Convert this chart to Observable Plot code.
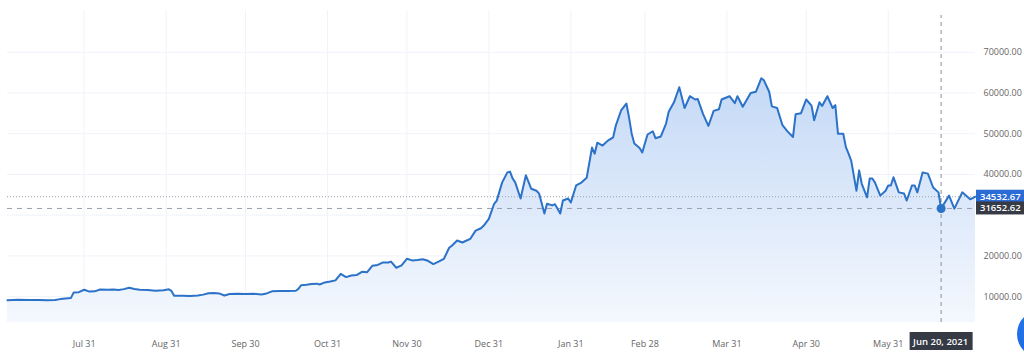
<!DOCTYPE html>
<html>
<head>
<meta charset="utf-8">
<script src="https://cdn.jsdelivr.net/npm/d3@7"></script>
<script src="https://cdn.jsdelivr.net/npm/@observablehq/plot@0.6"></script>
<style>
  html, body { margin: 0; padding: 0; background: #fff; overflow: hidden; }
  #wrap { position: relative; width: 1024px; height: 363px; }
  #fab { position: absolute; left: 1017px; top: 310px; width: 48px; height: 48px; border-radius: 50%;
         background: radial-gradient(circle at 40% 40%, #2b7bf0, #1160d8); }
</style>
</head>
<body>
<div id="wrap"><div id="fab"></div></div>
<script>
// ---- data ----
const dates = [
  "2020-07-02","2020-07-06","2020-07-10","2020-07-14","2020-07-17","2020-07-20","2020-07-22","2020-07-24","2020-07-26","2020-07-27","2020-07-29","2020-07-31",
  "2020-08-02","2020-08-04","2020-08-06","2020-08-09","2020-08-11","2020-08-13","2020-08-15","2020-08-17","2020-08-19","2020-08-21","2020-08-24","2020-08-27","2020-08-30",
  "2020-09-01","2020-09-02","2020-09-03","2020-09-06","2020-09-09","2020-09-12","2020-09-14","2020-09-16","2020-09-18","2020-09-20","2020-09-22","2020-09-24","2020-09-27","2020-09-30",
  "2020-10-03","2020-10-06","2020-10-08","2020-10-10","2020-10-13","2020-10-16","2020-10-19","2020-10-20","2020-10-21","2020-10-23","2020-10-25","2020-10-27","2020-10-28","2020-10-30",
  "2020-11-01","2020-11-03","2020-11-05","2020-11-07","2020-11-09","2020-11-11","2020-11-13","2020-11-15","2020-11-17","2020-11-19","2020-11-21","2020-11-23","2020-11-24","2020-11-26","2020-11-28","2020-11-30",
  "2020-12-02","2020-12-04","2020-12-06","2020-12-08","2020-12-10","2020-12-12","2020-12-14","2020-12-16","2020-12-17","2020-12-19","2020-12-21","2020-12-22","2020-12-24","2020-12-26","2020-12-28","2020-12-29","2020-12-31",
  "2021-01-02","2021-01-03","2021-01-05","2021-01-07","2021-01-08","2021-01-09","2021-01-10","2021-01-12","2021-01-14","2021-01-16","2021-01-18","2021-01-19","2021-01-21","2021-01-22","2021-01-24","2021-01-25","2021-01-27","2021-01-28","2021-01-30","2021-01-31",
  "2021-02-02","2021-02-04","2021-02-06","2021-02-08","2021-02-09","2021-02-10","2021-02-12","2021-02-14","2021-02-16","2021-02-17","2021-02-19","2021-02-21","2021-02-22","2021-02-23","2021-02-24","2021-02-26","2021-02-27",
  "2021-03-01","2021-03-03","2021-03-04","2021-03-06","2021-03-08","2021-03-09","2021-03-11","2021-03-13","2021-03-15","2021-03-17","2021-03-19","2021-03-20","2021-03-22","2021-03-24","2021-03-26","2021-03-28","2021-03-29",
  "2021-04-01","2021-04-03","2021-04-04","2021-04-06","2021-04-09","2021-04-11","2021-04-13","2021-04-14","2021-04-16","2021-04-17","2021-04-19","2021-04-21","2021-04-23","2021-04-25","2021-04-26","2021-04-28","2021-04-30",
  "2021-05-02","2021-05-03","2021-05-05","2021-05-06","2021-05-08","2021-05-10","2021-05-11","2021-05-12","2021-05-14","2021-05-15","2021-05-16","2021-05-17","2021-05-19","2021-05-20","2021-05-21","2021-05-23","2021-05-24","2021-05-25","2021-05-26","2021-05-28","2021-05-30","2021-05-31",
  "2021-06-01","2021-06-02","2021-06-04","2021-06-06","2021-06-07","2021-06-09","2021-06-10","2021-06-11","2021-06-13","2021-06-15","2021-06-17","2021-06-19","2021-06-20","2021-06-23","2021-06-25","2021-06-28","2021-07-01","2021-07-03"
];
const prices = [
  9100,9250,9200,9180,9150,9200,9400,9550,9700,11000,11100,11700,
  11250,11300,11750,11700,11750,11650,11850,12200,11900,11700,11650,11450,11600,
  11800,11400,10250,10200,10150,10300,10500,10850,10900,10800,10300,10650,10700,10650,
  10700,10550,10800,11300,11400,11400,11450,11900,12800,12900,13100,13200,13000,13500,
  13700,14000,15600,14800,15200,15300,16100,16000,17600,17800,18400,18400,18600,17100,17700,19300,
  18900,19000,19200,18800,18000,18600,19300,22000,22500,23800,23300,23600,24200,26200,26800,27400,29100,
  32800,33600,38000,40500,40700,39000,38000,34100,39800,36500,36000,35300,30400,32800,32400,32700,30400,33600,34100,33100,
  37300,38000,39200,46600,45100,47800,47100,48300,49100,52000,55700,57400,54000,50000,47600,46500,45400,
  49800,50600,48900,49300,52500,55400,57700,61400,56300,59200,58400,58500,54800,51900,55600,56000,58400,
  59200,57500,59200,56600,60000,60300,63600,63100,60300,56700,56300,52100,50500,49200,54800,55000,58400,
  56900,53300,57700,56800,59200,56300,57000,50000,50000,46700,45100,43400,36000,41000,37700,34400,39000,39000,38000,34800,36000,37300,
  37300,39300,35600,35300,33600,37300,37300,35600,40500,40200,36800,35600,31652.62,34800,31600,35600,33900,34532.67
];
const tickDates = ["2020-07-31","2020-08-31","2020-09-30","2020-10-31","2020-11-30","2020-12-31","2021-01-31","2021-02-28","2021-03-31","2021-04-30","2021-05-31"];
const tickLabels = ["Jul 31","Aug 31","Sep 30","Oct 31","Nov 30","Dec 31","Jan 31","Feb 28","Mar 31","Apr 30","May 31"];
const yTicks = [10000, 20000, 40000, 50000, 60000, 70000];
const yGrid = [10000, 20000, 30000, 40000, 50000, 60000, 70000];
const lastPrice = 34532.67;
const crossDate = "2021-06-20";
const crossPrice = 31652.62;
const crossLabel = "Jun 20, 2021";
const xDomain = ["2020-07-02", "2021-07-03"];
const yDomain = [3660, 80240];

// ---- build ----
const data = dates.map((d, i) => ({date: new Date(d), price: prices[i]}));
const tickMap = new Map(tickDates.map((d, i) => [+new Date(d), tickLabels[i]]));
const NS = "http://www.w3.org/2000/svg";
function el(tag, attrs, text) {
  const e = document.createElementNS(NS, tag);
  for (const k in attrs) e.setAttribute(k, attrs[k]);
  if (text != null) e.textContent = text;
  return e;
}

const gradientDefs = () => {
  const defs = el("defs", {});
  const lg = el("linearGradient", {id: "areaGrad", x1: 0, y1: 0, x2: 0, y2: 1});
  lg.appendChild(el("stop", {offset: "0%", "stop-color": "#c4d9f6"}));
  lg.appendChild(el("stop", {offset: "100%", "stop-color": "#f4f8fe"}));
  defs.appendChild(lg);
  return defs;
};

const labels = (index, scales, values, dim) => {
  const g = el("g", {"font-family": "'Open Sans', sans-serif", "font-size": 9.5});
  const x0 = dim.width - dim.marginRight;
  [[lastPrice, "#2a6bd4"], [crossPrice, "#363a45"]].forEach(([v, c]) => {
    const y = scales.y(v);
    g.appendChild(el("rect", {x: x0 + 1, y: y - 6.5, width: dim.marginRight, height: 13, fill: c}));
    g.appendChild(el("text", {x: x0 + 5, y: y + 3.5, fill: "#fff", "text-anchor": "start", "font-weight": 600}, d3.format(".2f")(v)));
  });
  const cx = scales.x(new Date(crossDate));
  const by = dim.height - dim.marginBottom + 10;
  g.appendChild(el("rect", {x: cx - 31, y: by, width: 63, height: 18, fill: "#363a45"}));
  g.appendChild(el("text", {x: cx, y: by + 12.5, fill: "#fff", "text-anchor": "middle", "font-weight": 600}, crossLabel));
  return g;
};

const chart = Plot.plot({
  width: 1024,
  height: 363,
  marginLeft: 7,
  marginRight: 49,
  marginTop: 10,
  marginBottom: 41,
  style: {fontFamily: "'Open Sans', sans-serif", fontSize: "9px", color: "#666", background: "#fff"},
  x: {type: "utc", domain: xDomain.map(d => new Date(d))},
  y: {domain: yDomain},
  marks: [
    gradientDefs,
    Plot.ruleX(tickDates.map(d => new Date(d)), {stroke: "#f0f3fa", strokeWidth: 1}),
    Plot.ruleY(yGrid, {stroke: "#f0f3fa", strokeWidth: 1}),
    Plot.areaY(data, {x: "date", y1: yDomain[0], y2: "price", fill: "url(#areaGrad)", curve: "linear"}),
    Plot.ruleY([lastPrice], {stroke: "#9aa0ab", strokeWidth: 1, strokeDasharray: "1,2"}),
    Plot.ruleY([crossPrice], {stroke: "#9aa0ab", strokeWidth: 1, strokeDasharray: "5,5"}),
    Plot.ruleX([new Date(crossDate)], {y1: yDomain[0], y2: 79000, stroke: "#8a8f99", strokeWidth: 1, strokeDasharray: "4,4"}),
    Plot.lineY(data, {x: "date", y: "price", stroke: "#2b72c8", strokeWidth: 2, strokeLinejoin: "round"}),
    Plot.dot([{date: new Date(crossDate), price: crossPrice}], {x: "date", y: "price", r: 4.5, fill: "#2b72c8", stroke: "none"}),
    Plot.axisX({ticks: tickDates.map(d => new Date(d)), tickFormat: d => tickMap.get(+d), tickSize: 0, tickPadding: 18, anchor: "bottom", label: null}),
    Plot.axisY({anchor: "right", ticks: yTicks, tickFormat: d3.format(".2f"), tickSize: 0, tickPadding: 8, label: null}),
    labels
  ]
});
document.getElementById("wrap").prepend(chart);
</script>
</body>
</html>
